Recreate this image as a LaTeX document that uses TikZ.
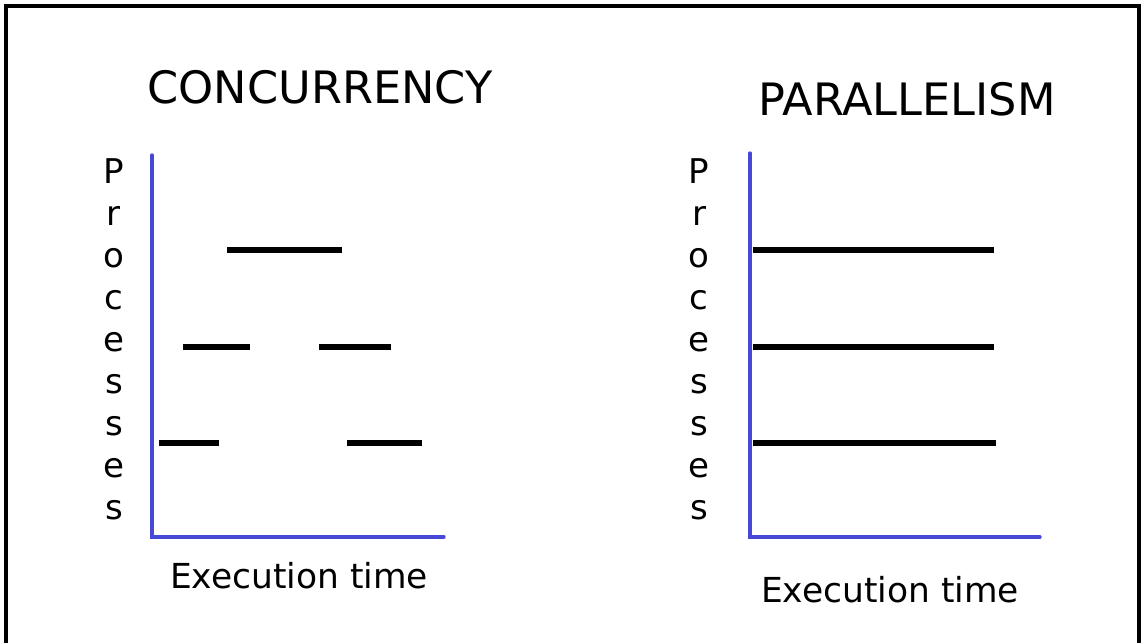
\documentclass[tikz,border=0pt]{standalone}
\usepackage{fontspec}
\setmainfont{DejaVu Sans}
\usepackage{tikz}
\usetikzlibrary{calc}

\definecolor{axisblue}{RGB}{72,72,214}

\tikzset{
    axis/.style={axisblue, line width=1.9pt, line cap=round},
    run/.style={black, line width=3.2pt},
    heading/.style={font=\fontsize{25.4}{30}\selectfont, anchor=base, inner sep=0pt},
    label/.style={font=\fontsize{19.6}{24}\selectfont, anchor=base, inner sep=0pt},
    letters/.style={font=\fontsize{19.4}{23.95}\selectfont, align=center, anchor=north, inner sep=0pt}
}

\begin{document}
\begin{tikzpicture}[x=0.02cm, y=-0.02cm]
    \useasboundingbox (0,0) rectangle (1141,643);
    \draw[line width=2pt] (6,643) -- (6,6) -- (1139,6) -- (1139,643);

    % left: concurrency
    \node[heading] (titleL) at (320,103) {CONCURRENCY};
    \node[letters] (procL) at (114,158) {P\\r\\o\\c\\e\\s\\s\\e\\s};
    \node[label] (timeL) at (299,588) {Execution time};
    \draw[axis] (152,155) -- (152,537) -- (444,537);

    \draw[run] (227,250) -- (342,250);
    \draw[run] (183,347) -- (250,347);
    \draw[run] (319,347) -- (391,347);
    \draw[run] (159,443) -- (219,443);
    \draw[run] (347,443) -- (422,443);

    % right: parallelism
    \node[heading] (titleR) at (907,115) {PARALLELISM};
    \node[letters] (procR) at (699,158) {P\\r\\o\\c\\e\\s\\s\\e\\s};
    \node[label] (timeR) at (890,602) {Execution time};
    \draw[axis] (750,153) -- (750,537) -- (1040,537);

    \draw[run] (753,250) -- (994,250);
    \draw[run] (753,347) -- (994,347);
    \draw[run] (753,443) -- (996,443);
\end{tikzpicture}
\end{document}
